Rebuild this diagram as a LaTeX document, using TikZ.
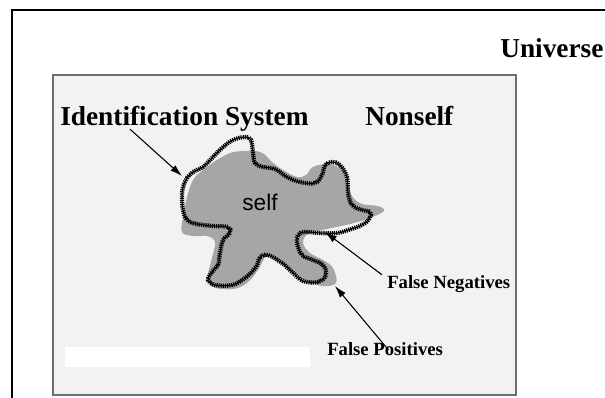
\documentclass[tikz,border=0pt]{standalone}
\usepackage{fontspec}
\setmainfont{Liberation Serif}
\setsansfont{Liberation Sans}
\usetikzlibrary{arrows.meta}

\definecolor{boxfill}{HTML}{F2F2F2}
\definecolor{boxline}{HTML}{6E6E6E}
\definecolor{selfgray}{HTML}{A6A6A6}

\tikzset{
  biglabel/.style={inner sep=0pt,font=\fontsize{20.5}{24}\selectfont\bfseries},
  smalllabel/.style={inner sep=0pt,font=\fontsize{14}{17}\selectfont\bfseries},
  pointer/.style={line width=0.8pt,-{Latex[length=9pt,width=5.5pt]}},
  ridge/.style={line width=3.2pt,dash pattern=on 0.9pt off 0.7pt}
}

\begin{document}
\begin{tikzpicture}[x=0.75pt,y=0.75pt,yscale=-1,xscale=1]
        \useasboundingbox (0,0) rectangle (605,397);
        \clip (0,0) rectangle (605,397);

        %Shape: Rectangle [universe]
        \draw [line width=2pt]  (12,10) rectangle (660,460) ;
        %Shape: Rectangle [nonself area]
        \draw [draw=boxline,fill=boxfill,line width=1.5pt]  (53,75) rectangle (516,395) ;
        %Shape: Rectangle [blank strip]
        \fill [white]  (65,347) rectangle (310,367) ;

        %Shape: Blob [self]
        \fill [selfgray] plot [smooth cycle,tension=0.6] coordinates {(183,217) (182,232) (193,236) (207,236) (215,242) (212,258) (208,276) (213,287) (233,289) (247,283) (258,270) (267,256) (281,261) (291,271) (305,280) (322,286) (336,283) (333,268) (323,260) (310,253) (303,243) (308,234) (327,229) (350,224) (370,218) (384,211) (378,206) (362,204) (352,196) (347,180) (339,168) (327,164) (313,167) (306,175) (297,177) (283,170) (272,162) (264,154) (256,151) (243,151) (230,153) (217,160) (203,170) (193,180) (187,197)} ;

        %Shape: Outline [identification system]
        \draw [line width=0.8pt] plot [smooth cycle,tension=0.6] coordinates {(183,187) (187,178) (193,172) (203,167) (212,158) (222,148) (233,140) (245,137) (251,140) (253,153) (255,163) (263,167) (275,169) (287,177) (300,182) (315,183) (322,175) (325,165) (332,162) (340,165) (347,177) (348,193) (352,205) (362,210) (370,212) (370,218) (362,225) (348,230) (337,233) (320,233) (305,232) (298,235) (297,243) (302,255) (313,260) (323,265) (326,275) (318,282) (303,281) (292,272) (282,263) (268,255) (260,257) (256,267) (245,278) (232,285) (215,285) (208,280) (212,272) (218,265) (220,253) (223,240) (230,233) (228,227) (213,226) (197,224) (187,220) (183,210) (182,197)} ;
        \draw [ridge] plot [smooth cycle,tension=0.6] coordinates {(183,187) (187,178) (193,172) (203,167) (212,158) (222,148) (233,140) (245,137) (251,140) (253,153) (255,163) (263,167) (275,169) (287,177) (300,182) (315,183) (322,175) (325,165) (332,162) (340,165) (347,177) (348,193) (352,205) (362,210) (370,212) (370,218) (362,225) (348,230) (337,233) (320,233) (305,232) (298,235) (297,243) (302,255) (313,260) (323,265) (326,275) (318,282) (303,281) (292,272) (282,263) (268,255) (260,257) (256,267) (245,278) (232,285) (215,285) (208,280) (212,272) (218,265) (220,253) (223,240) (230,233) (228,227) (213,226) (197,224) (187,220) (183,210) (182,197)} ;

        % Text Node
        \node (universe) [biglabel,anchor=base west] at (500,57) {Universe};
        % Text Node
        \node (idsystem) [biglabel,anchor=base west] at (60,125) {Identification System};
        % Text Node
        \node (nonself) [biglabel,anchor=base west] at (365,125) {Nonself};
        % Text Node
        \node (self) [inner sep=0pt,anchor=base,font=\fontsize{17}{20}\selectfont\sffamily] at (260,210) {self};
        % Text Node
        \node (falseneg) [smalllabel,anchor=base west] at (387,288) {False Negatives};
        % Text Node
        \node (falsepos) [smalllabel,anchor=base west] at (327,355) {False Positives};

        %Arrow tips
        \coordinate (idtip) at (182,176);
        \coordinate (negtip) at (325,232);
        \coordinate (postip) at (335,286);

        %Straight Lines [pointers]
        \draw [pointer] ([xshift=52.5pt,yshift=-1.5pt]idsystem.south west) -- (idtip) ;
        \draw [pointer] ([xshift=-3.75pt]falseneg.north west) -- (negtip) ;
        \draw [pointer] ([xshift=46pt,yshift=6pt]falsepos.north west) -- (postip) ;
\end{tikzpicture}
\end{document}
